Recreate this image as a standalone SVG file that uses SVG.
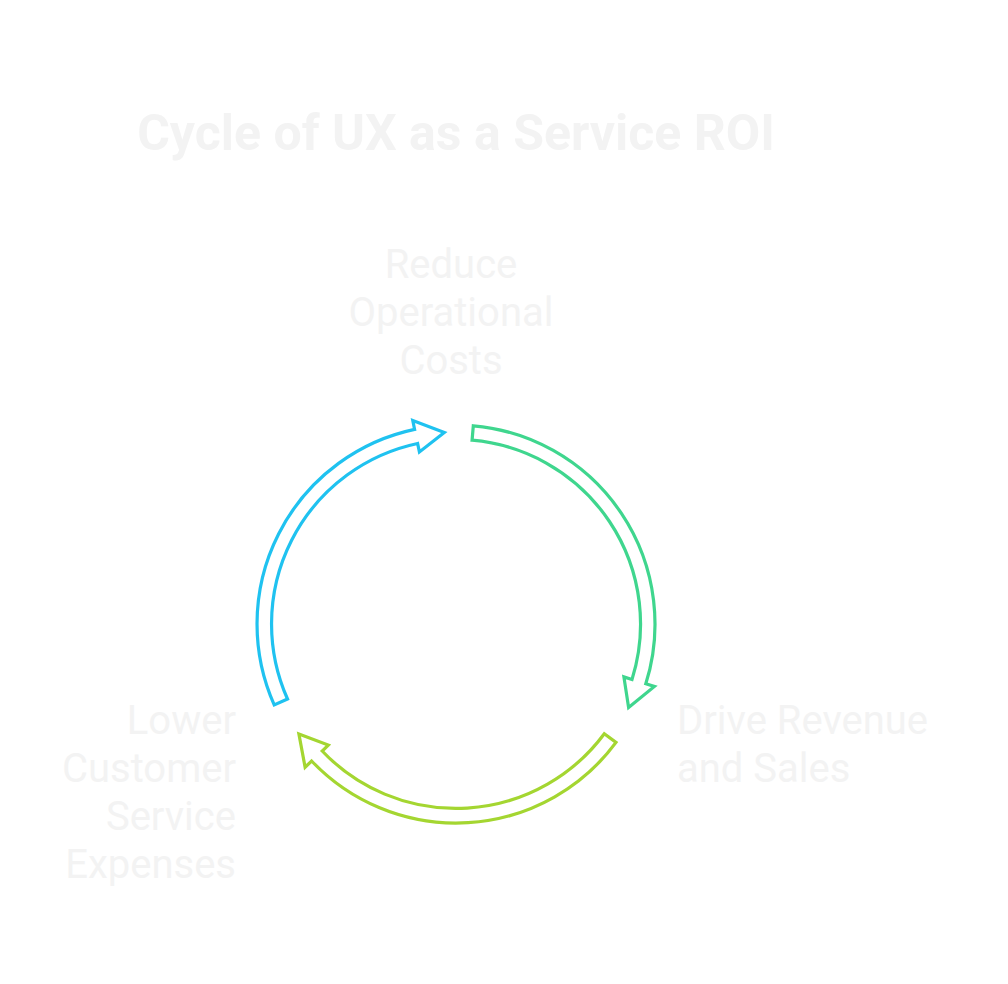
<svg xmlns="http://www.w3.org/2000/svg" width="1008" height="984" viewBox="0 0 1008 984">
<style>
.t{font-family:Roboto,"Liberation Sans",sans-serif;fill:#f3f3f3}
.title{font-size:50px;font-weight:700}
.lbl{font-size:40px;font-weight:400}
.arr{fill:none;stroke-width:3.2;stroke-linejoin:miter}
</style>
<rect width="1008" height="984" fill="#ffffff"/>
<g id="title"><text class="t title" x="456" y="150" text-anchor="middle">Cycle of UX as a Service ROI</text></g>
<g id="connectors">
<path class="arr" stroke="#1fc2f0" d="M287.5,699.0 L274.2,704.9 A199,199 0 0 1 414.6,429.4 L412.8,420.6 L444.3,432.6 L419.4,451.9 L417.6,443.5 A184.5,184.5 0 0 0 287.5,699.0 Z"/>
<path class="arr" stroke="#3fd68e" d="M472.1,440.2 L473.3,425.8 A199,199 0 0 1 645.8,683.8 L654.4,686.5 L628.6,707.5 L623.9,676.9 L632.0,679.5 A184.5,184.5 0 0 0 472.1,440.2 Z"/>
<path class="arr" stroke="#a4d631" d="M604.3,733.7 L616.0,742.4 A199,199 0 0 1 311.6,761.0 L305.1,767.2 L298.9,734.0 L328.3,745.1 L322.2,751.0 A184.5,184.5 0 0 0 604.3,733.7 Z"/>
</g>
<g id="node-reduce"><text class="t lbl" text-anchor="middle"><tspan x="451" y="278">Reduce</tspan><tspan x="451" y="326">Operational</tspan><tspan x="451" y="374">Costs</tspan></text></g>
<g id="node-drive"><text class="t lbl"><tspan x="677" y="734">Drive Revenue</tspan><tspan x="677" y="782">and Sales</tspan></text></g>
<g id="node-lower"><text class="t lbl" text-anchor="end"><tspan x="236" y="734">Lower</tspan><tspan x="236" y="782">Customer</tspan><tspan x="236" y="830">Service</tspan><tspan x="236" y="878">Expenses</tspan></text></g>
</svg>
